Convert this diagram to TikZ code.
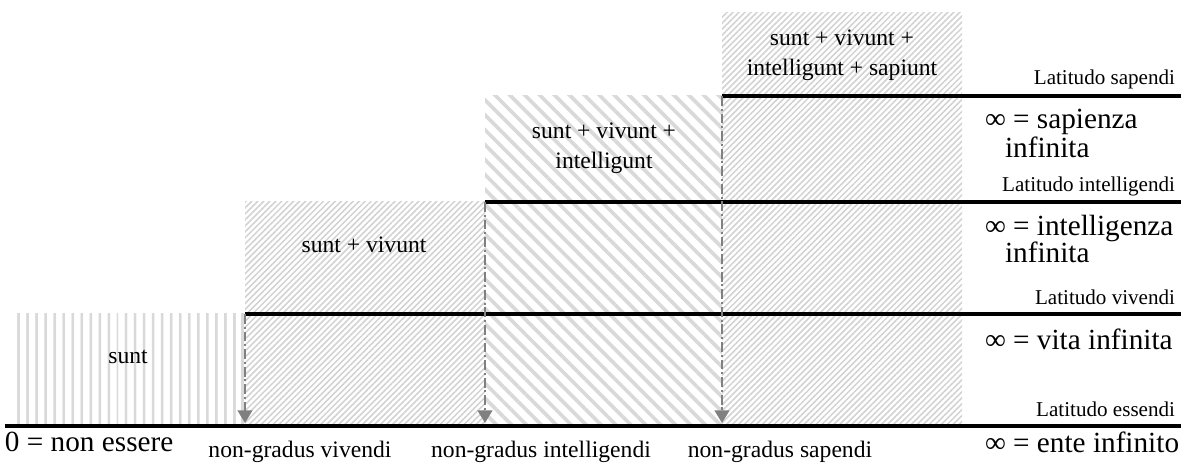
\documentclass[tikz,border=0pt]{standalone}
\usepackage{fontspec}
\setmainfont{Liberation Serif}
\usetikzlibrary{arrows.meta, patterns.meta}

\begin{document}
\begin{tikzpicture}[
    x=0.25mm, y=0.25mm,
    every node/.style = {inner sep=0pt, outer sep=0pt},
    small/.style = {font=\fontsize{16.8}{21.3}\selectfont, align=center},
    tiny/.style  = {font=\fontsize{15}{18}\selectfont, anchor=base east},
    big/.style   = {font=\fontsize{20.8}{24}\selectfont, anchor=base west},
    level/.style = {line width=3.5pt},
    drop/.style  = {
        -{Triangle[length=9pt,width=10.5pt]},
        dash pattern=on 7pt off 2pt on 1.5pt off 2pt,
        line width=1.4pt,
        color=gray
    },
    fine/.style  = {pattern={Lines[angle=45,distance=3pt,line width=1.1pt]},
                    pattern color=gray!35},
    wide/.style  = {pattern={Lines[angle=-45,distance=7.5pt,line width=2.6pt]},
                    pattern color=gray!30},
    bars/.style  = {pattern={Lines[angle=90,distance=6.4pt,line width=2pt]},
                    pattern color=gray!30}
]
\useasboundingbox (0,0) rectangle (1189,465);

%% Step corners and feet
\coordinate (ess)  at (5,39);
\coordinate (viv)  at (245,151);
\coordinate (int)  at (485,263);
\coordinate (sap)  at (722,369);
\coordinate (rim)  at (1181,39);

%% Hatched areas
\fill[bars] (12,39)   rectangle (245,151);
\fill[fine] (245,39)  rectangle (485,263);
\fill[wide] (485,39)  rectangle (722,369);
\fill[fine] (722,39)  rectangle (962,452);

%% Latitudines
\draw[level] (ess) -- (rim);
\draw[level] (viv) -- (viv -| rim);
\draw[level] (int) -- (int -| rim);
\draw[level] (sap) -- (sap -| rim);

%% Drops down to the essendi line
\coordinate (vivFoot) at (245,42);
\coordinate (intFoot) at (485,42);
\coordinate (sapFoot) at (722,42);
\draw[drop] (viv) -- (vivFoot);
\draw[drop] (int) -- (intFoot);
\draw[drop] (sap) -- (sapFoot);

%% Area labels
\node[small] (sunt)   at (128,108) {sunt};
\node[small] (vivunt) at (364,220) {sunt + vivunt};
\node[small] (intell) at (604,317) {sunt + vivunt +\\intelligunt};
\node[small] (sapiunt) at (842,410) {sunt + vivunt +\\intelligunt + sapiunt};

%% Names of the lines
\node[tiny] (latEss) at (1175,48)  {Latitudo essendi};
\node[tiny] (latViv) at (1175,160) {Latitudo vivendi};
\node[tiny] (latInt) at (1175,273) {Latitudo intelligendi};
\node[tiny] (latSap) at (1175,380) {Latitudo sapendi};

%% Limits at the right
\node[big] (infSap)  at (985,336)  {∞ = sapienza};
\node[big] (infSap2) at (1005,307) {infinita};
\node[big] (infInt)  at (985,229)  {∞ = intelligenza};
\node[big] (infInt2) at (1005,202) {infinita};
\node[big] (infViv)  at (985,115)  {∞ = vita infinita};
\node[big] (infEss)  at (985,12)   {∞ = ente infinito};
\node[big] (zero)    at (5,13)     {0 = non essere};

%% Non-gradus under the feet
\node[small, anchor=base] (ngViv) at (300,7) {non-gradus vivendi};
\node[small, anchor=base] (ngInt) at (541,7) {non-gradus intelligendi};
\node[small, anchor=base] (ngSap) at (780,7) {non-gradus sapendi};

\end{tikzpicture}
\end{document}
